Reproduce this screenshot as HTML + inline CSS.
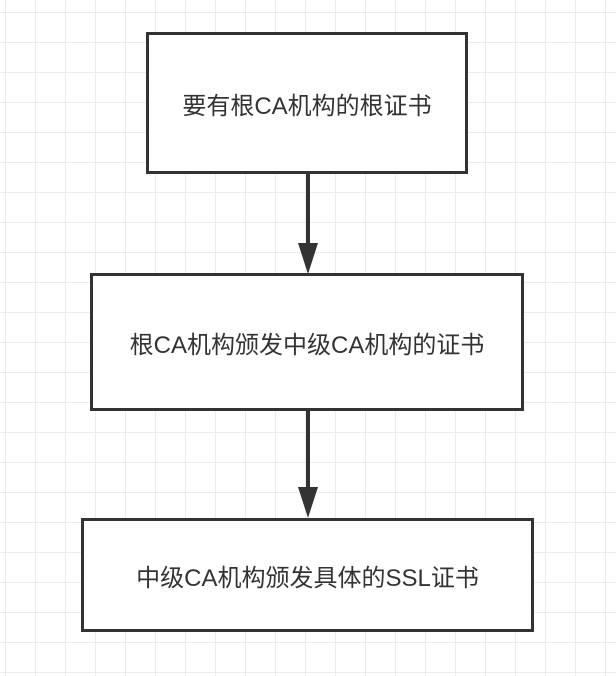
<!DOCTYPE html>
<html><head><meta charset="utf-8"><style>
html,body{margin:0;padding:0;}
body{width:616px;height:676px;position:relative;overflow:hidden;background-color:#fff;
background-image:linear-gradient(#ececec 1px,transparent 1px),linear-gradient(90deg,#ececec 1px,transparent 1px);
background-size:30px 30px;background-position:5px 12px;}
.b{position:absolute;box-sizing:border-box;border:3px solid #333;background:#fff;display:flex;align-items:center;justify-content:center;
font-family:"Liberation Sans","Noto Sans CJK SC",sans-serif;font-size:24px;color:#333;}
</style></head><body>
<svg width="616" height="676" style="position:absolute;left:0;top:0">
<line x1="308" y1="172" x2="308" y2="246" stroke="#333" stroke-width="4"/>
<polygon points="298,243 318,243 308,274" fill="#333"/>
<line x1="308" y1="409" x2="308" y2="490" stroke="#333" stroke-width="4"/>
<polygon points="298,487 318,487 308,518" fill="#333"/>
</svg>
<div class="b" style="left:146px;top:32px;width:322px;height:142px">要有根CA机构的根证书</div>
<div class="b" style="left:90px;top:273px;width:434px;height:138px">根CA机构颁发中级CA机构的证书</div>
<div class="b" style="left:81px;top:518px;width:453px;height:114px">中级CA机构颁发具体的SSL证书</div>
</body></html>
